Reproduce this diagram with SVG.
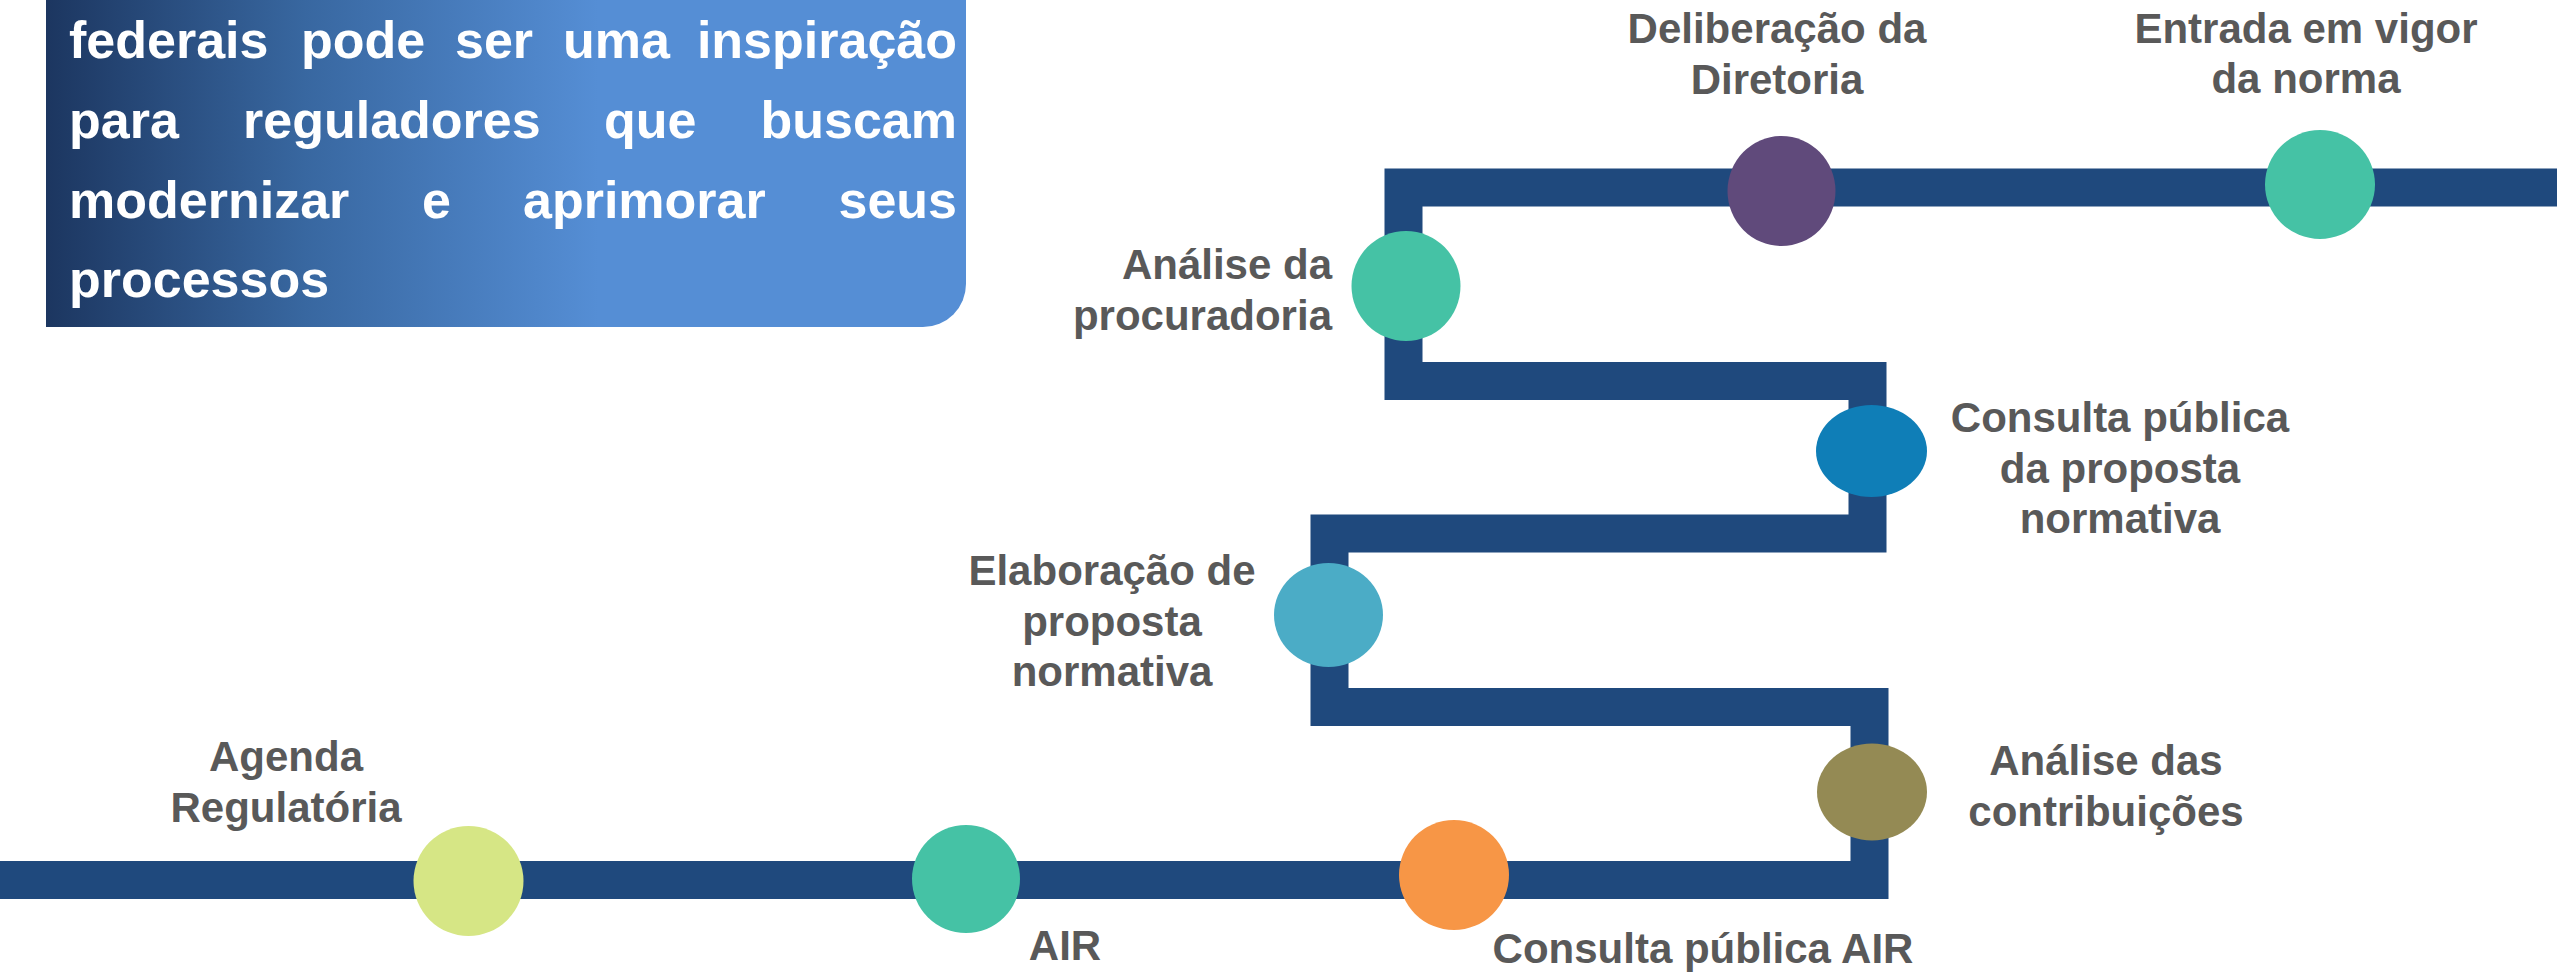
<svg xmlns="http://www.w3.org/2000/svg" width="2557" height="972" viewBox="0 0 2557 972">
  <defs>
    <linearGradient id="boxGrad" gradientUnits="userSpaceOnUse" x1="46" y1="0" x2="966" y2="0">
      <stop offset="0" stop-color="#1c3660"/>
      <stop offset="0.28" stop-color="#3867a0"/>
      <stop offset="0.6" stop-color="#558ed5"/>
      <stop offset="1" stop-color="#558ed5"/>
    </linearGradient>
    <style>
      .intro { font-family: "Liberation Sans", Arial, sans-serif; font-weight: bold; font-size: 52px; fill: #ffffff; }
      .lbl { font-family: "Liberation Sans", Arial, sans-serif; font-weight: bold; font-size: 42px; fill: #595959; text-anchor: middle; }
      .track { fill: none; stroke: #1f497d; stroke-width: 38; stroke-linejoin: miter; stroke-linecap: butt; }
    </style>
  </defs>
  <rect x="0" y="0" width="2557" height="972" fill="#ffffff"/>

  <g id="intro-box">
    <path d="M46,0 H966 V284 A43,43 0 0 1 923,327 H46 Z" fill="url(#boxGrad)"/>
    <text class="intro" y="58"><tspan x="69">federais</tspan><tspan x="301">pode</tspan><tspan x="455">ser</tspan><tspan x="563">uma</tspan></text>
    <text class="intro" x="957" y="58" text-anchor="end">inspiração</text>
    <text class="intro" y="138"><tspan x="69">para</tspan><tspan x="243">reguladores</tspan><tspan x="604">que</tspan></text>
    <text class="intro" x="957" y="138" text-anchor="end">buscam</text>
    <text class="intro" y="218"><tspan x="69">modernizar</tspan><tspan x="422">e</tspan><tspan x="523">aprimorar</tspan></text>
    <text class="intro" x="957" y="218" text-anchor="end">seus</text>
    <text class="intro" x="69" y="297">processos</text>
  </g>

  <g id="connectors">
    <polyline class="track" points="-10,880 1869.5,880 1869.5,707 1329.5,707 1329.5,533.5 1867.5,533.5 1867.5,381 1403.5,381 1403.5,187.5 2570,187.5"/>
  </g>

  <g id="node-agenda">
    <ellipse cx="468.5" cy="881" rx="55" ry="55" fill="#d6e685"/>
    <text class="lbl" x="286" y="771">Agenda</text>
    <text class="lbl" x="286" y="822">Regulatória</text>
  </g>

  <g id="node-air">
    <ellipse cx="966" cy="879" rx="54" ry="54" fill="#45c2a5"/>
    <text class="lbl" x="1065" y="960">AIR</text>
  </g>

  <g id="node-consulta-air">
    <ellipse cx="1454" cy="875" rx="55" ry="55" fill="#f79646"/>
    <text class="lbl" x="1703" y="963">Consulta pública AIR</text>
  </g>

  <g id="node-analise-contribuicoes">
    <ellipse cx="1872" cy="792" rx="55" ry="48.5" fill="#948a54"/>
    <text class="lbl" x="2106" y="775">Análise das</text>
    <text class="lbl" x="2106" y="826">contribuições</text>
  </g>

  <g id="node-elaboracao">
    <ellipse cx="1328.5" cy="615" rx="54.5" ry="52" fill="#4bacc6"/>
    <text class="lbl" x="1112" y="585">Elaboração de</text>
    <text class="lbl" x="1112" y="636">proposta</text>
    <text class="lbl" x="1112" y="686">normativa</text>
  </g>

  <g id="node-consulta-proposta">
    <ellipse cx="1871.5" cy="451" rx="55.5" ry="46" fill="#0f7eb7"/>
    <text class="lbl" x="2120" y="432">Consulta pública</text>
    <text class="lbl" x="2120" y="483">da proposta</text>
    <text class="lbl" x="2120" y="533">normativa</text>
  </g>

  <g id="node-procuradoria">
    <ellipse cx="1406" cy="286" rx="54.5" ry="55" fill="#45c2a5"/>
    <text class="lbl" x="1332" y="279" text-anchor="end" style="text-anchor:end">Análise da</text>
    <text class="lbl" x="1332" y="330" text-anchor="end" style="text-anchor:end">procuradoria</text>
  </g>

  <g id="node-deliberacao">
    <ellipse cx="1781.5" cy="191" rx="54" ry="55" fill="#604a7b"/>
    <text class="lbl" x="1777" y="43">Deliberação da</text>
    <text class="lbl" x="1777" y="94">Diretoria</text>
  </g>

  <g id="node-entrada">
    <ellipse cx="2320" cy="184.5" rx="55" ry="54.5" fill="#45c2a5"/>
    <text class="lbl" x="2306" y="43">Entrada em vigor</text>
    <text class="lbl" x="2306" y="93">da norma</text>
  </g>
</svg>
